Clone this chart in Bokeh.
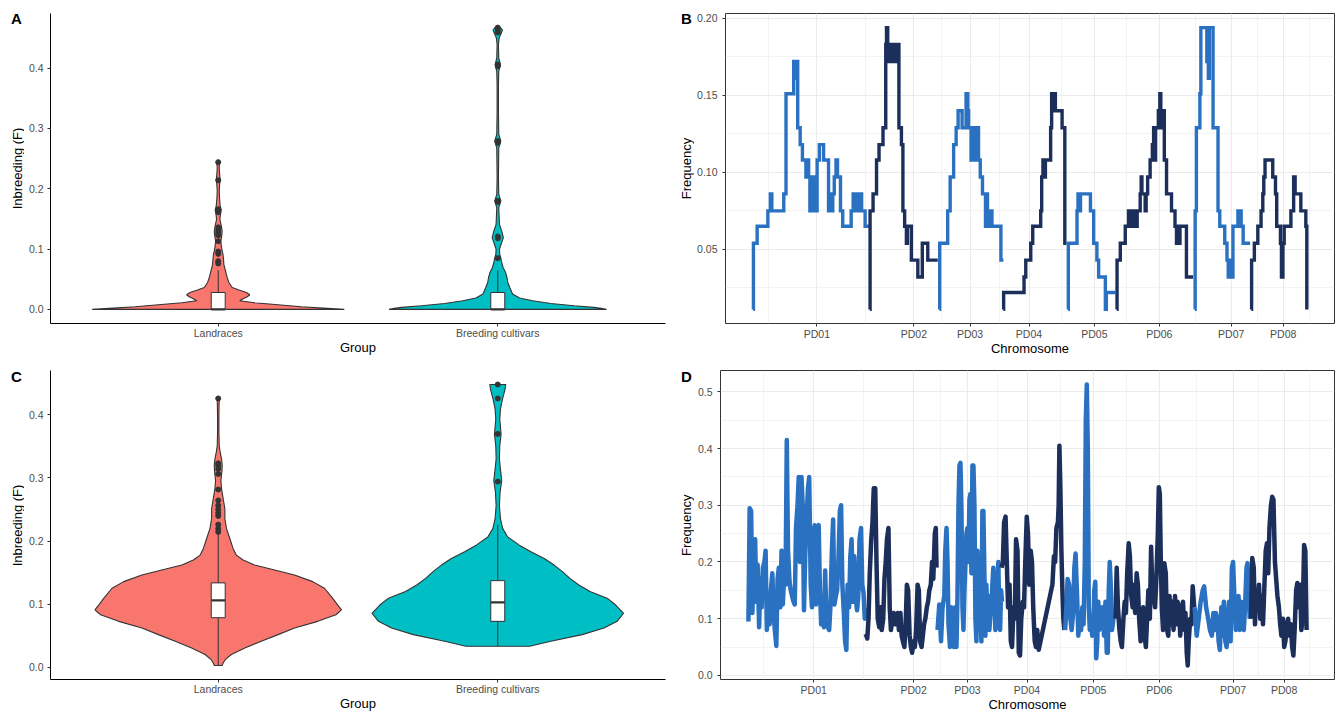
import math
from bokeh.plotting import figure
from bokeh.layouts import row, column
from bokeh.models import FixedTicker, PrintfTickFormatter, Range1d
from bokeh.core.properties import value
from bokeh.embed import file_html
from bokeh.resources import INLINE

FONT = "Liberation Sans"
INK = "#333333"
TICK_TEXT = "#4D4D4D"
GRID = "#EBEBEB"
LIGHT = "#2A72C1"
DARK = "#1C2F5B"

# ---------------- data: panels A and C (violins) ----------------
groups = ["Landraces", "Breeding cultivars"]
group_fills = ["#F8766D", "#00BFC4"]

# violin outline: (F value, half width in group units), bottom -> top
a_land_violin = [(0.0, 0.451), (0.0017, 0.391), (0.0044, 0.297), (0.0077, 0.214), (0.011, 0.130),
                 (0.0143, 0.077), (0.0176, 0.089), (0.021, 0.104), (0.0243, 0.113), (0.0281, 0.101),
                 (0.032, 0.074), (0.0364, 0.050), (0.0447, 0.038), (0.0529, 0.032), (0.064, 0.026),
                 (0.075, 0.020), (0.0832, 0.019), (0.0915, 0.017), (0.097, 0.014), (0.1053, 0.011),
                 (0.1135, 0.0095), (0.1234, 0.013), (0.1301, 0.014), (0.1383, 0.011), (0.1493, 0.006),
                 (0.1576, 0.008), (0.1648, 0.011), (0.1714, 0.007), (0.1824, 0.005), (0.1962, 0.0036),
                 (0.2072, 0.005), (0.2155, 0.007), (0.2238, 0.005), (0.2348, 0.0036), (0.2431, 0.005),
                 (0.2447, 0.004)]
a_breed_violin = [(0.0, 0.389), (0.0017, 0.37), (0.0033, 0.344), (0.0061, 0.273), (0.0099, 0.19),
                  (0.0143, 0.125), (0.0188, 0.078), (0.0254, 0.053), (0.0364, 0.043), (0.0447, 0.036),
                  (0.0529, 0.033), (0.0612, 0.028), (0.0695, 0.019), (0.0777, 0.014), (0.0849, 0.011),
                  (0.0915, 0.007), (0.0997, 0.006), (0.108, 0.012), (0.119, 0.020), (0.1301, 0.014),
                  (0.141, 0.006), (0.1686, 0.0036), (0.1796, 0.011), (0.1906, 0.0036), (0.2182, 0.0024),
                  (0.2678, 0.0036), (0.2788, 0.011), (0.2898, 0.0036), (0.3284, 0.0024), (0.3725, 0.0024),
                  (0.3945, 0.0036), (0.4056, 0.0095), (0.4166, 0.0036), (0.4386, 0.0024), (0.4496, 0.005),
                  (0.4596, 0.014), (0.463, 0.017), (0.467, 0.010)]
c_land_violin = [(0.0031, 0.014), (0.0073, 0.018), (0.0126, 0.026), (0.0204, 0.047), (0.0309, 0.095),
                 (0.0414, 0.154), (0.0519, 0.214), (0.0624, 0.273), (0.0729, 0.356), (0.0834, 0.421),
                 (0.0912, 0.441), (0.0991, 0.427), (0.1096, 0.409), (0.1253, 0.380), (0.1358, 0.338),
                 (0.1463, 0.273), (0.1542, 0.202), (0.162, 0.130), (0.1699, 0.089), (0.1777, 0.065),
                 (0.1883, 0.053), (0.204, 0.0415), (0.2197, 0.0297), (0.2354, 0.0237), (0.2511, 0.0237),
                 (0.2668, 0.0178), (0.2826, 0.0119), (0.2957, 0.0095), (0.3088, 0.013), (0.3193, 0.0142),
                 (0.3298, 0.0119), (0.3402, 0.0071), (0.3507, 0.0036), (0.3717, 0.0024), (0.398, 0.0024),
                 (0.415, 0.003), (0.4257, 0.004)]
c_breed_violin = [(0.0335, 0.114), (0.0414, 0.19), (0.0519, 0.302), (0.0624, 0.38), (0.0729, 0.427),
                  (0.0857, 0.45), (0.0991, 0.421), (0.1096, 0.391), (0.12, 0.33), (0.1305, 0.29),
                  (0.141, 0.258), (0.1515, 0.2313), (0.162, 0.2017), (0.1725, 0.166), (0.183, 0.1186),
                  (0.1935, 0.0771), (0.2065, 0.0356), (0.2197, 0.0178), (0.2354, 0.0095), (0.2563, 0.0059),
                  (0.2773, 0.0083), (0.2957, 0.0142), (0.314, 0.0095), (0.3298, 0.0059), (0.3507, 0.0071),
                  (0.3692, 0.0119), (0.3927, 0.0071), (0.4084, 0.0095), (0.4242, 0.0166), (0.4398, 0.026),
                  (0.4477, 0.0285)]

# box stats: lower whisker, Q1, median, Q3, upper whisker
a_land_box = [0.0, 0.0, 0.0, 0.028, 0.065]
a_breed_box = [0.0, 0.0, 0.0, 0.028, 0.065]
c_land_box = [0.0031, 0.0787, 0.1062, 0.1338, 0.2114]
c_breed_box = [0.0335, 0.0729, 0.1028, 0.1373, 0.226]

a_land_out = [0.244, 0.214, 0.166, 0.161, 0.136, 0.131, 0.127, 0.123, 0.113, 0.096, 0.092, 0.080, 0.076]
a_breed_out = [0.467, 0.463, 0.459, 0.406, 0.403, 0.279, 0.276, 0.180, 0.178, 0.121, 0.118, 0.085]
c_land_out = [0.4257, 0.323, 0.3193, 0.314, 0.3062, 0.2816, 0.2643, 0.2564, 0.2501, 0.2444, 0.2397,
              0.226, 0.2197, 0.2145]
c_breed_out = [0.4477, 0.4257, 0.3696, 0.2941]

# ---------------- data: panel B (step frequency per chromosome, Mb) ----------------
chromosomes = ["PD01", "PD02", "PD03", "PD04", "PD05", "PD06", "PD07", "PD08"]
b_tick_pos = [25.6, 64.6, 87.2, 110.9, 137.2, 163.3, 192.2, 213.1]

b_pd01 = [(0.0, 0.011), (0.1, 0.054), (1.6, 0.065), (5.9, 0.075), (6.9, 0.086), (7.5, 0.075),
          (12.3, 0.086), (13.2, 0.151), (16.3, 0.172), (17.0, 0.161), (17.5, 0.172), (17.9, 0.129),
          (18.9, 0.118), (19.8, 0.108), (21.2, 0.097), (21.6, 0.108), (22.3, 0.097), (22.8, 0.075),
          (23.3, 0.097), (23.8, 0.075), (24.3, 0.097), (24.8, 0.075), (25.7, 0.108), (26.6, 0.118),
          (28.3, 0.108), (30.3, 0.075), (31.0, 0.086), (31.5, 0.075), (32.0, 0.086), (32.6, 0.097),
          (33.3, 0.108), (33.9, 0.097), (35.1, 0.075), (36.0, 0.065), (39.4, 0.075), (40.2, 0.086),
          (41.0, 0.075), (41.5, 0.086), (42.2, 0.075), (42.7, 0.086), (43.6, 0.075), (45.0, 0.065),
          (46.7, 0.065)]
b_pd02 = [(46.9, 0.011), (47.0, 0.075), (48.2, 0.086), (49.6, 0.108), (50.6, 0.118), (52.2, 0.129),
          (53.3, 0.183), (53.6, 0.194), (54.1, 0.183), (54.5, 0.172), (55.0, 0.183), (55.5, 0.172),
          (56.0, 0.183), (57.0, 0.172), (57.6, 0.183), (58.6, 0.129), (59.6, 0.118), (60.2, 0.075),
          (60.9, 0.065), (61.6, 0.054), (62.0, 0.065), (63.6, 0.043), (66.2, 0.032), (68.0, 0.054),
          (70.2, 0.043), (74.2, 0.043)]
b_pd03 = [(74.9, 0.011), (75.0, 0.054), (78.2, 0.075), (79.2, 0.097), (80.6, 0.118), (81.6, 0.129),
          (82.4, 0.140), (84.0, 0.129), (85.6, 0.151), (86.3, 0.140), (86.6, 0.129), (87.6, 0.108),
          (88.1, 0.129), (88.9, 0.108), (89.8, 0.129), (90.6, 0.108), (91.3, 0.097), (92.2, 0.086),
          (93.4, 0.065), (93.8, 0.086), (94.2, 0.075), (95.1, 0.065), (95.6, 0.075), (96.0, 0.065),
          (99.6, 0.043), (100.6, 0.043)]
b_pd04 = [(100.6, 0.011), (100.7, 0.022), (108.9, 0.032), (109.6, 0.043), (111.6, 0.054), (112.4, 0.065),
          (115.6, 0.075), (116.0, 0.097), (116.5, 0.108), (117.0, 0.097), (117.5, 0.108), (119.6, 0.129),
          (120.0, 0.151), (120.5, 0.140), (121.0, 0.151), (121.5, 0.140), (124.2, 0.129), (125.3, 0.054),
          (126.0, 0.054)]
b_pd05 = [(126.6, 0.011), (126.7, 0.054), (130.2, 0.075), (130.6, 0.086), (131.2, 0.075), (131.6, 0.086),
          (135.6, 0.075), (136.9, 0.054), (138.2, 0.043), (138.9, 0.032), (141.6, 0.011), (142.0, 0.022),
          (145.6, 0.022)]
b_pd06 = [(146.2, 0.011), (146.3, 0.043), (147.6, 0.054), (149.6, 0.065), (150.9, 0.075), (151.5, 0.065),
          (152.0, 0.075), (152.6, 0.065), (153.2, 0.075), (153.8, 0.065), (154.4, 0.075), (155.6, 0.086),
          (156.0, 0.097), (156.3, 0.086), (157.6, 0.075), (158.0, 0.086), (158.6, 0.097), (159.6, 0.108),
          (160.5, 0.118), (161.0, 0.129), (161.4, 0.108), (161.8, 0.129), (162.9, 0.140), (163.5, 0.151),
          (163.9, 0.140), (164.2, 0.129), (164.8, 0.140), (165.3, 0.108), (166.2, 0.086), (168.2, 0.075),
          (169.6, 0.065), (170.2, 0.054), (170.6, 0.065), (171.0, 0.054), (171.6, 0.065), (174.2, 0.032),
          (176.9, 0.032)]
b_pd07 = [(177.6, 0.011), (177.7, 0.075), (178.2, 0.129), (179.6, 0.151), (180.0, 0.194), (182.4, 0.172),
          (183.0, 0.161), (183.4, 0.194), (184.9, 0.129), (186.9, 0.075), (187.6, 0.065), (189.6, 0.054),
          (190.5, 0.043), (191.0, 0.032), (191.6, 0.043), (192.2, 0.032), (192.9, 0.065), (194.9, 0.075),
          (196.2, 0.065), (197.0, 0.054), (199.8, 0.054)]
b_pd08 = [(200.3, 0.011), (200.4, 0.043), (201.5, 0.054), (202.9, 0.065), (204.2, 0.075), (204.9, 0.086),
          (205.3, 0.097), (205.8, 0.108), (208.9, 0.097), (210.0, 0.086), (210.5, 0.065), (212.0, 0.054),
          (212.4, 0.032), (213.0, 0.054), (213.5, 0.065), (216.2, 0.075), (217.3, 0.097), (217.9, 0.086),
          (220.2, 0.075), (222.2, 0.065), (222.6, 0.011)]

# ---------------- data: panel D (window frequency per chromosome, Mb) ----------------
d_tick_pos = [25.8, 65.9, 87.5, 111.4, 138.0, 164.5, 194.1, 214.6]

d_pd01 = [(-0.4, 0.095), (0.1, 0.295), (0.7, 0.29), (1.2, 0.11), (1.7, 0.20), (2.3, 0.24), (2.8, 0.13),
          (3.3, 0.195), (3.9, 0.085), (4.4, 0.17), (4.9, 0.12), (5.4, 0.19), (6.0, 0.20), (6.5, 0.22),
          (7.0, 0.08), (7.6, 0.14), (8.1, 0.09), (8.6, 0.15), (9.2, 0.18), (9.7, 0.11), (10.2, 0.08),
          (10.8, 0.052), (11.3, 0.17), (11.8, 0.19), (12.4, 0.12), (12.9, 0.22), (13.4, 0.125), (14.0, 0.18),
          (14.5, 0.16), (15.0, 0.415), (15.5, 0.22), (16.1, 0.165), (16.6, 0.15), (17.1, 0.14), (17.7, 0.13),
          (18.2, 0.125), (18.7, 0.26), (19.3, 0.30), (19.8, 0.35), (20.3, 0.20), (20.9, 0.35), (21.4, 0.30),
          (21.9, 0.115), (22.4, 0.21), (23.0, 0.28), (23.5, 0.33), (24.0, 0.35), (24.6, 0.16), (25.1, 0.12),
          (25.6, 0.24), (26.2, 0.265), (26.7, 0.125), (27.2, 0.26), (27.8, 0.265), (28.3, 0.15), (28.8, 0.09),
          (29.3, 0.10), (29.9, 0.085), (30.4, 0.185), (30.9, 0.10), (31.5, 0.085), (32.0, 0.08), (32.5, 0.12),
          (33.1, 0.22), (33.6, 0.275), (34.1, 0.125), (34.7, 0.14), (35.2, 0.15), (35.7, 0.20), (36.3, 0.29),
          (36.8, 0.30), (37.3, 0.16), (37.9, 0.11), (38.4, 0.06), (38.9, 0.045), (39.4, 0.16), (40.0, 0.12),
          (40.5, 0.21), (41.0, 0.24), (41.6, 0.13), (42.1, 0.21), (42.6, 0.14), (43.2, 0.115), (43.7, 0.14),
          (44.2, 0.24), (44.8, 0.26), (45.3, 0.16), (45.8, 0.145), (46.3, 0.10), (46.9, 0.12)]
d_pd02 = [(46.7, 0.073), (47.3, 0.065), (47.8, 0.10), (48.3, 0.18), (48.9, 0.24), (49.4, 0.27), (49.9, 0.33),
          (50.5, 0.33), (51.0, 0.20), (51.5, 0.10), (52.1, 0.085), (52.6, 0.12), (53.1, 0.08), (53.7, 0.10),
          (54.2, 0.17), (54.7, 0.20), (55.2, 0.24), (55.8, 0.26), (56.3, 0.12), (56.8, 0.08), (57.4, 0.10),
          (57.9, 0.11), (58.4, 0.09), (59.0, 0.10), (59.5, 0.11), (60.0, 0.08), (60.6, 0.11), (61.1, 0.07),
          (61.6, 0.06), (62.2, 0.05), (62.7, 0.09), (63.2, 0.16), (63.7, 0.15), (64.3, 0.07), (64.8, 0.05),
          (65.3, 0.04), (65.9, 0.06), (66.4, 0.05), (66.9, 0.08), (67.5, 0.16), (68.0, 0.15), (68.5, 0.06),
          (69.1, 0.05), (69.6, 0.07), (70.1, 0.09), (70.6, 0.10), (71.2, 0.12), (71.7, 0.13), (72.2, 0.15),
          (72.8, 0.16), (73.3, 0.20), (73.8, 0.17), (74.4, 0.25), (74.8, 0.26), (75.1, 0.19)]
d_pd03 = [(75.5, 0.08), (76.2, 0.125), (76.9, 0.06), (77.5, 0.12), (78.2, 0.14), (78.6, 0.22), (79.1, 0.26),
          (79.5, 0.20), (79.9, 0.09), (80.5, 0.05), (81.0, 0.12), (81.5, 0.11), (82.1, 0.05), (82.6, 0.12),
          (83.1, 0.05), (83.5, 0.14), (83.9, 0.30), (84.3, 0.37), (84.7, 0.375), (85.1, 0.29), (85.5, 0.12),
          (85.9, 0.08), (86.3, 0.15), (86.7, 0.20), (87.1, 0.25), (87.5, 0.26), (87.9, 0.20), (88.3, 0.31),
          (88.7, 0.32), (89.1, 0.18), (89.5, 0.37), (89.9, 0.37), (90.3, 0.30), (90.7, 0.10), (91.1, 0.06),
          (91.5, 0.22), (91.9, 0.15), (92.3, 0.21), (92.7, 0.12), (93.1, 0.06), (93.5, 0.29), (93.9, 0.29),
          (94.3, 0.18), (94.7, 0.07), (95.1, 0.16), (95.5, 0.09), (95.9, 0.14), (96.3, 0.08), (96.7, 0.11),
          (97.1, 0.12), (97.5, 0.16), (97.9, 0.19), (98.3, 0.13), (98.7, 0.08), (99.1, 0.10), (99.5, 0.15),
          (99.9, 0.20), (100.2, 0.12), (100.6, 0.08), (101.0, 0.15), (101.4, 0.13)]
d_pd04 = [(101.2, 0.19), (101.7, 0.20), (102.2, 0.27), (102.8, 0.28), (103.3, 0.20), (103.8, 0.12),
          (104.4, 0.16), (104.9, 0.06), (105.4, 0.05), (106.0, 0.12), (106.5, 0.10), (107.0, 0.24),
          (107.6, 0.22), (108.1, 0.04), (108.6, 0.035), (109.1, 0.10), (109.7, 0.13), (110.2, 0.12),
          (110.7, 0.20), (111.3, 0.28), (111.8, 0.25), (112.3, 0.16), (112.9, 0.22), (113.4, 0.20),
          (113.9, 0.12), (114.5, 0.06), (115.0, 0.05), (115.5, 0.08), (116.1, 0.045), (121.1, 0.15),
          (121.6, 0.16), (122.2, 0.21), (122.7, 0.20), (123.2, 0.26), (123.8, 0.27), (124.1, 0.30),
          (124.4, 0.405), (124.8, 0.33), (125.2, 0.22), (125.6, 0.15), (126.0, 0.10), (126.4, 0.08)]
d_pd05 = [(126.7, 0.08), (127.2, 0.12), (127.7, 0.17), (128.3, 0.16), (128.8, 0.10), (129.3, 0.08),
          (129.9, 0.11), (130.4, 0.19), (130.9, 0.215), (131.5, 0.14), (132.0, 0.07), (132.5, 0.10),
          (133.1, 0.08), (133.6, 0.12), (134.1, 0.09), (134.6, 0.20), (135.0, 0.45), (135.4, 0.513),
          (135.8, 0.40), (136.2, 0.12), (136.6, 0.08), (137.0, 0.10), (137.6, 0.07), (138.0, 0.08),
          (138.4, 0.15), (138.8, 0.165), (139.2, 0.03), (139.6, 0.06), (140.0, 0.13), (140.4, 0.08),
          (140.8, 0.12), (141.3, 0.10), (141.8, 0.12), (142.3, 0.07), (142.9, 0.13), (143.4, 0.04),
          (143.8, 0.04), (144.2, 0.15), (144.6, 0.20), (145.0, 0.16), (145.5, 0.08), (146.1, 0.10)]
d_pd06 = [(146.9, 0.10), (147.4, 0.19), (147.9, 0.12), (148.5, 0.08), (149.0, 0.06), (149.5, 0.05),
          (150.1, 0.10), (150.6, 0.13), (151.1, 0.11), (151.6, 0.18), (152.2, 0.233), (152.7, 0.21),
          (153.2, 0.14), (153.8, 0.12), (154.3, 0.16), (154.8, 0.11), (155.4, 0.18), (155.9, 0.16),
          (156.4, 0.10), (157.0, 0.06), (157.5, 0.09), (158.0, 0.12), (158.6, 0.07), (159.1, 0.05),
          (159.6, 0.10), (160.1, 0.15), (160.7, 0.10), (161.2, 0.227), (161.7, 0.15), (162.3, 0.14),
          (162.8, 0.12), (163.3, 0.17), (163.9, 0.25), (164.3, 0.332), (164.7, 0.32), (165.1, 0.20),
          (165.5, 0.12), (166.0, 0.08), (166.5, 0.198), (167.1, 0.18), (167.6, 0.08), (168.1, 0.07),
          (168.6, 0.14), (169.2, 0.09), (169.7, 0.13), (170.2, 0.08), (170.8, 0.14), (171.3, 0.09),
          (171.8, 0.13), (172.4, 0.12), (172.9, 0.07), (173.4, 0.11), (174.0, 0.13), (174.5, 0.08),
          (175.0, 0.11), (175.5, 0.04), (175.9, 0.0175), (176.3, 0.06), (176.9, 0.10), (177.4, 0.09),
          (177.9, 0.157), (178.5, 0.12)]
d_pd07 = [(178.7, 0.12), (179.5, 0.07), (180.3, 0.10), (181.1, 0.13), (181.9, 0.15), (182.5, 0.157),
          (183.3, 0.12), (184.1, 0.10), (184.8, 0.08), (185.6, 0.07), (186.2, 0.11), (186.7, 0.08),
          (187.2, 0.11), (187.8, 0.10), (188.3, 0.06), (188.8, 0.045), (189.4, 0.12), (189.9, 0.07),
          (190.4, 0.13), (191.0, 0.06), (191.5, 0.05), (192.0, 0.10), (192.5, 0.13), (193.1, 0.06),
          (193.6, 0.19), (194.1, 0.20), (194.7, 0.13), (195.2, 0.08), (195.7, 0.11), (196.3, 0.14),
          (196.8, 0.08), (197.3, 0.13), (197.9, 0.09), (198.4, 0.08), (198.9, 0.12), (199.5, 0.19),
          (199.9, 0.198), (200.3, 0.15), (200.8, 0.10)]
d_pd08 = [(201.3, 0.10), (201.8, 0.207), (202.4, 0.19), (202.9, 0.09), (203.4, 0.15), (204.0, 0.12),
          (204.5, 0.16), (205.0, 0.10), (205.6, 0.14), (206.1, 0.09), (206.6, 0.15), (207.2, 0.22),
          (207.7, 0.233), (208.2, 0.18), (208.7, 0.26), (209.3, 0.30), (209.8, 0.315), (210.3, 0.31),
          (210.9, 0.20), (211.4, 0.17), (211.9, 0.14), (212.5, 0.12), (213.0, 0.09), (213.5, 0.07),
          (214.1, 0.10), (214.6, 0.05), (215.1, 0.06), (215.7, 0.09), (216.2, 0.10), (216.7, 0.07),
          (217.3, 0.09), (217.8, 0.05), (218.3, 0.035), (218.8, 0.08), (219.4, 0.15), (219.9, 0.163),
          (220.4, 0.12), (221.0, 0.16), (221.5, 0.08), (222.0, 0.10), (222.6, 0.23), (223.1, 0.22),
          (223.6, 0.08)]

b_series = [b_pd01, b_pd02, b_pd03, b_pd04, b_pd05, b_pd06, b_pd07, b_pd08]
d_series = [d_pd01, d_pd02, d_pd03, d_pd04, d_pd05, d_pd06, d_pd07, d_pd08]

# ---------------- layout constants (pixels) ----------------
TOP_H, BOT_H = 360, 354
GUT_W = 24
MAIN_W = 646


def padded(lo, hi, frac=0.05):
    pad = (hi - lo) * frac
    return (lo - pad, hi + pad)


def midpoint_minors(ticks):
    mids = [(a + b) / 2 for a, b in zip(ticks, ticks[1:])]
    first = ticks[0] - (ticks[1] - ticks[0]) / 2
    last = ticks[-1] + (ticks[-1] - ticks[-2]) / 2
    return [first] + mids + [last]


def gutter(height, letter, letter_y, title, title_x, title_y):
    """Left margin strip carrying the panel tag and the rotated y-axis title."""
    g = figure(width=GUT_W, height=height, x_range=Range1d(0, GUT_W), y_range=Range1d(0, height),
               title=None, output_backend="svg", toolbar_location=None,
               x_axis_location=None, y_axis_location=None,
               min_border_left=0, min_border_right=0, min_border_top=0, min_border_bottom=0)
    try:
        g.frame_align = False   # keep this strip's frame = whole canvas (no alignment with neighbours)
    except Exception:
        pass
    g.outline_line_color = None
    g.grid.visible = False
    g.text(x=[10.5], y=[height - letter_y], text=[letter], text_font=value(FONT),
           text_font_size="15px", text_font_style="bold", text_color="black",
           text_align="left", text_baseline="middle")
    g.text(x=[title_x], y=[height - title_y], text=[title], angle=math.pi / 2, text_font=value(FONT),
           text_font_size="13px", text_color="black", text_align="center", text_baseline="middle")
    return g


def base_axes(p):
    for ax in list(p.xaxis) + list(p.yaxis):
        ax.major_tick_line_color = INK
        ax.major_tick_in = 0
        ax.major_tick_out = 3
        ax.minor_tick_line_color = None
        ax.major_label_text_font = FONT
        ax.major_label_text_font_size = "10.5px"
        ax.major_label_text_color = TICK_TEXT
        ax.axis_label_text_font = FONT
        ax.axis_label_text_font_size = "13px"
        ax.axis_label_text_font_style = "normal"
        ax.axis_label_text_color = "black"
    for ax in p.xaxis:
        ax.major_label_standoff = 0
        ax.axis_label_standoff = -2
    for ax in p.yaxis:
        ax.major_label_standoff = 4


def violin_fig(height, borders, profiles, boxes, outliers):
    bl, br, bt, bb = borders
    vals = [v for prof in profiles for v, _ in prof] + [o for out in outliers for o in out]
    yr = padded(min(vals), max(vals))
    xr = (0.4, 2.6)
    p = figure(width=MAIN_W, height=height, x_range=Range1d(*xr), y_range=Range1d(*yr),
               title=None, output_backend="svg", toolbar_location=None,
               min_border_left=bl, min_border_right=br, min_border_top=bt, min_border_bottom=bb)
    p.outline_line_color = None
    p.xgrid.visible = False
    p.ygrid.visible = False
    for i, (prof, box, out) in enumerate(zip(profiles, boxes, outliers)):
        c = i + 1
        ys = [v for v, _ in prof]
        ws = [hw for _, hw in prof]
        xs = [c + hw for hw in ws] + [c - hw for hw in reversed(ws)]
        yy = ys + ys[::-1]
        p.patch(xs, yy, fill_color=group_fills[i], line_color=INK, line_width=1.1)
        wl, q1, med, q3, wh = box
        p.segment(x0=[c, c], y0=[q3, wl], x1=[c, c], y1=[wh, q1], line_color=INK, line_width=1)
        p.quad(left=[c - 0.025], right=[c + 0.025], bottom=[q1], top=[q3],
               fill_color="white", line_color=INK, line_width=1)
        p.segment(x0=[c - 0.025], y0=[med], x1=[c + 0.025], y1=[med], line_color=INK, line_width=2.2)
        p.scatter(x=[c] * len(out), y=out, size=5, fill_color=INK, line_color=INK)
    p.xaxis.ticker = FixedTicker(ticks=[1, 2])
    p.xaxis.major_label_overrides = {1: groups[0], 2: groups[1]}
    p.yaxis.ticker = FixedTicker(ticks=[0.0, 0.1, 0.2, 0.3, 0.4])
    p.yaxis.formatter = PrintfTickFormatter(format="%.1f")
    p.xaxis.axis_label = "Group"
    base_axes(p)
    for ax in list(p.xaxis) + list(p.yaxis):
        ax.axis_line_color = "black"
        ax.axis_line_width = 1
    return p


def genome_fig(height, borders, series, ticks, yticks, yminor, yfmt, width_px, step):
    bl, br, bt, bb = borders
    xs_all = [x for s in series for x, _ in s]
    ys_all = [y for s in series for _, y in s]
    xr = padded(min(xs_all), max(xs_all))
    yr = padded(min(ys_all), max(ys_all))
    p = figure(width=MAIN_W, height=height, x_range=Range1d(*xr), y_range=Range1d(*yr),
               title=None, output_backend="svg", toolbar_location=None,
               min_border_left=bl, min_border_right=br, min_border_top=bt, min_border_bottom=bb)
    p.outline_line_color = INK
    p.outline_line_width = 1
    xt = FixedTicker(ticks=ticks, minor_ticks=midpoint_minors(ticks))
    yt = FixedTicker(ticks=yticks, minor_ticks=yminor)
    p.xaxis.ticker = xt
    p.yaxis.ticker = yt
    p.xgrid.ticker = xt
    p.ygrid.ticker = yt
    p.xaxis.major_label_overrides = {t: n for t, n in zip(ticks, chromosomes)}
    p.yaxis.formatter = PrintfTickFormatter(format=yfmt)
    for g in (p.xgrid, p.ygrid):
        g.grid_line_color = GRID
        g.grid_line_width = 1.1
        g.minor_grid_line_color = GRID
        g.minor_grid_line_width = 0.6
    for i, s in enumerate(series):
        col = LIGHT if i % 2 == 0 else DARK
        xs = [x for x, _ in s]
        ys = [y for _, y in s]
        if step:
            p.step(xs, ys, mode="after", line_color=col, line_width=width_px, line_join="miter")
        else:
            p.line(xs, ys, line_color=col, line_width=width_px, line_join="round")
    p.xaxis.axis_label = "Chromosome"
    base_axes(p)
    for ax in list(p.xaxis) + list(p.yaxis):
        ax.axis_line_color = None
    return p


pa = violin_fig(TOP_H, (26, 5, 13, 37),
                [a_land_violin, a_breed_violin], [a_land_box, a_breed_box], [a_land_out, a_breed_out])
pc = violin_fig(BOT_H, (26, 5, 10, 34),
                [c_land_violin, c_breed_violin], [c_land_box, c_breed_box], [c_land_out, c_breed_out])
pb = genome_fig(TOP_H, (31, 6, 13, 37), b_series, b_tick_pos,
                [0.05, 0.10, 0.15, 0.20], [0.025, 0.075, 0.125, 0.175], "%.2f", 3.4, True)
pd_ = genome_fig(BOT_H, (25, 6, 9, 34), d_series, d_tick_pos,
                 [0.0, 0.1, 0.2, 0.3, 0.4, 0.5], [0.05, 0.15, 0.25, 0.35, 0.45], "%.1f", 4.5, False)

ga = gutter(TOP_H, "A", 18.3, "Inbreeding (F)", 17, 168)
gb = gutter(TOP_H, "B", 18.3, "Frequency", 16, 168)
gc = gutter(BOT_H, "C", 15.5, "Inbreeding (F)", 17, 165)
gd = gutter(BOT_H, "D", 15.8, "Frequency", 16, 164.7)

layout = column(row(ga, pa, gb, pb, spacing=0), row(gc, pc, gd, pd_, spacing=0), spacing=0)

open("out.html", "w").write(file_html(layout, INLINE))
